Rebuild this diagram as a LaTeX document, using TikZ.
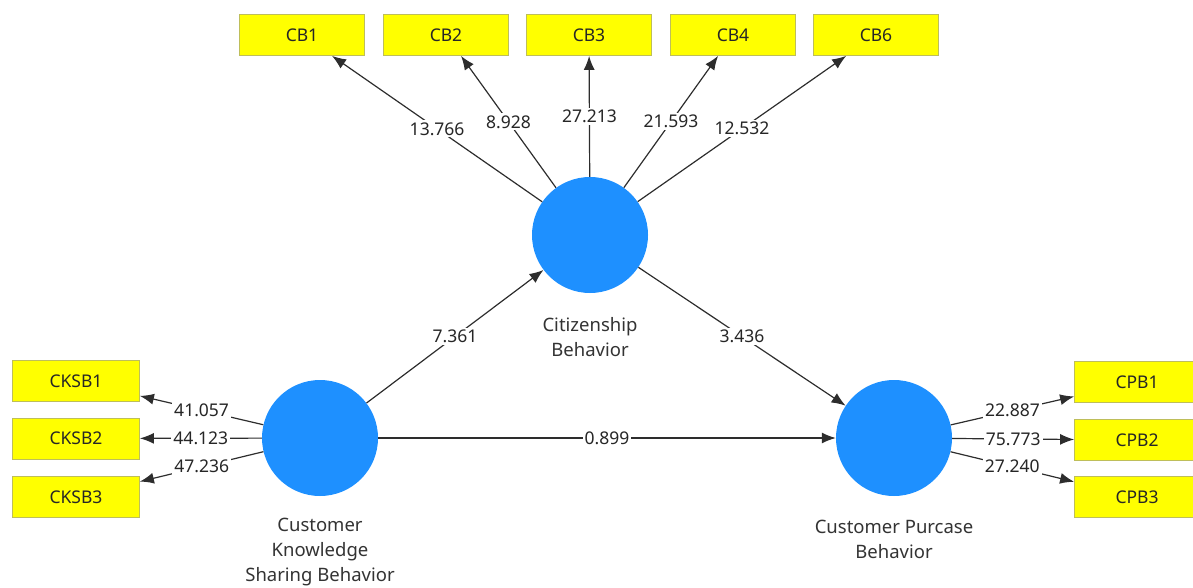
\documentclass[tikz,border=0pt]{standalone}
\usepackage{fontspec}
\setmainfont{Noto Sans}
\usetikzlibrary{arrows.meta}
\definecolor{lvblue}{RGB}{30,144,255}
\definecolor{indyellow}{RGB}{255,255,0}
\definecolor{indborder}{RGB}{190,190,90}
\definecolor{linegray}{RGB}{45,45,45}
\begin{document}
\begin{tikzpicture}[x=1pt,y=-1pt,
  ind/.style={draw=indborder,line width=0.8pt,fill=indyellow,minimum width=125pt,minimum height=41pt,inner sep=0pt,font=\fontsize{17.5}{20}\selectfont,text=black!85},
  lv/.style={circle,fill=lvblue,minimum size=116pt,inner sep=0pt},
  lvname/.style={align=center,font=\fontsize{18.5}{25}\selectfont,text=black!80},
  conn/.style={draw=linegray,line width=1.2pt,-{Latex[length=14pt,width=11pt]}},
  val/.style={fill=white,inner sep=2pt,font=\fontsize{17.5}{20}\selectfont,text=black!85}]
\useasboundingbox (0,0) rectangle (1193,588);
% indicators
\node[ind] (cb1) at (302,35) {CB1};
\node[ind] (cb2) at (446,35) {CB2};
\node[ind] (cb3) at (589,35) {CB3};
\node[ind] (cb4) at (733,35) {CB4};
\node[ind] (cb6) at (876,35) {CB6};
\node[ind,minimum width=127pt] (cksb1) at (76,381) {CKSB1};
\node[ind,minimum width=127pt] (cksb2) at (76,438.5) {CKSB2};
\node[ind,minimum width=127pt] (cksb3) at (76,497) {CKSB3};
\node[ind] (cpb1) at (1137,382) {CPB1};
\node[ind] (cpb2) at (1137,440) {CPB2};
\node[ind] (cpb3) at (1137,497) {CPB3};
% latent variables
\node[lv] (cb) at (590,235) {};
\node[lv] (cksb) at (320,438) {};
\node[lv] (cpb) at (894,438) {};
\node[lvname] (cbname) at (590,337.5) {Citizenship\\Behavior};
\node[lvname] (cksbname) at (320,552) {Customer\\Knowledge\\Sharing Behavior};
\node[lvname] (cpbname) at (894,539.5) {Customer Purcase\\Behavior};
% outer loadings
\draw[conn] (cb) -- node[val] {13.766} (cb1);
\draw[conn] (cb) -- node[val] {8.928} (cb2);
\draw[conn] (cb) -- node[val] {27.213} (cb3);
\draw[conn] (cb) -- node[val] {21.593} (cb4);
\draw[conn] (cb) -- node[val] {12.532} (cb6);
\draw[conn] (cksb) -- node[val] {41.057} (cksb1);
\draw[conn] (cksb) -- node[val] {44.123} (cksb2);
\draw[conn] (cksb) -- node[val] {47.236} (cksb3);
\draw[conn] (cpb) -- node[val] {22.887} (cpb1);
\draw[conn] (cpb) -- node[val] {75.773} (cpb2);
\draw[conn] (cpb) -- node[val] {27.240} (cpb3);
% structural paths
\draw[conn] (cksb) -- node[val] {7.361} (cb);
\draw[conn] (cb) -- node[val] {3.436} (cpb);
\draw[conn] (cksb) -- node[val] {0.899} (cpb);
\end{tikzpicture}
\end{document}
